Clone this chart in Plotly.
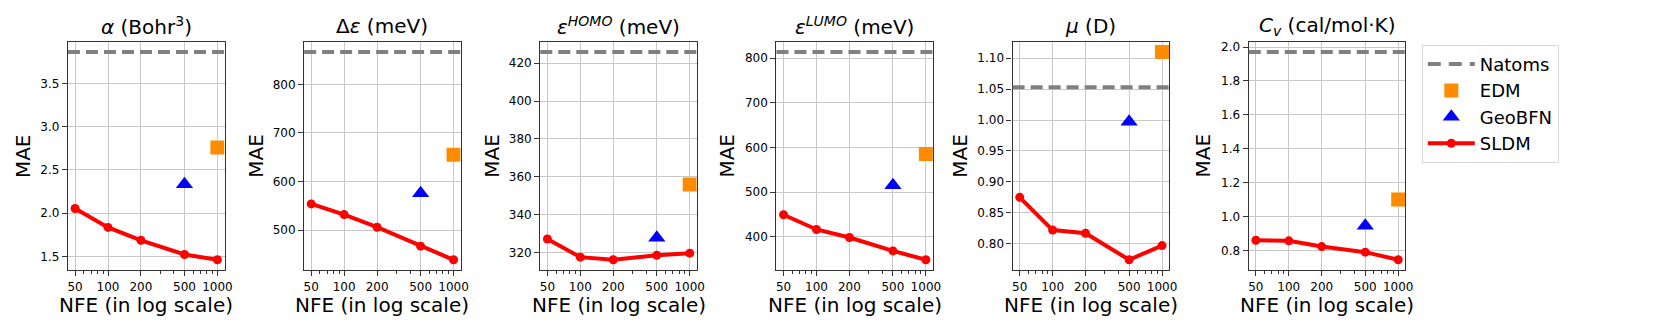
import math
import plotly.graph_objects as go
from plotly.subplots import make_subplots

# x values (number of function evaluations)
nfe = [50, 100, 200, 500, 1000]
nfe_labels = ["50", "100", "200", "500", "1000"]
nfe_minor = [60, 70, 80, 90, 300, 400, 600, 700, 800, 900]
edm_nfe = [1000]
geobfn_nfe = [500]

titles = [
    "<i>α</i> (Bohr<sup>3</sup>)",
    "Δ<i>ε</i> (meV)",
    "<i>ε</i><sup><i>HOMO</i></sup> (meV)",
    "<i>ε</i><sup><i>LUMO</i></sup> (meV)",
    "<i>μ</i> (D)",
    "<i>C</i><sub><i>v</i></sub> (cal/mol·K)",
]

# MAE values per property
sldm_alpha = [2.055, 1.836, 1.687, 1.523, 1.462]
sldm_gap = [554, 532, 506, 467, 439]
sldm_homo = [327.2, 317.6, 316.2, 318.6, 319.7]
sldm_lumo = [449, 416, 398, 368, 348]
sldm_mu = [0.875, 0.822, 0.817, 0.774, 0.797]
sldm_cv = [0.860, 0.857, 0.823, 0.790, 0.745]

edm_mae = [2.76, 655, 356, 585, 1.110, 1.100]
geobfn_mae = [2.334, 576, 327.9, 515, 0.997, 0.946]
natoms_mae = [3.863, 866.5, 425.9, 814, 1.053, 1.971]

sldm_all = [sldm_alpha, sldm_gap, sldm_homo, sldm_lumo, sldm_mu, sldm_cv]
ytick_step = [0.5, 100, 20, 100, 0.05, 0.2]
ytick_fmt = [".1f", "d", "d", "d", ".2f", ".1f"]

W, H = 1661, 332
left0, step, pw = 68.3, 237.3, 157.3
top_px, bot_px = 40.7, 270.0
ylabel_off = [45, 48.6, 48.6, 50, 53, 46.4]

GRAY = "#808080"
ORANGE = "#FF8C00"
BLUE = "#0000FF"
RED = "#FF0000"
FRAME = "#333333"
FONT = "DejaVu Sans"

fig = make_subplots(rows=1, cols=6)

for i in range(6):
    col = i + 1
    first = i == 0
    sldm = sldm_all[i]

    fig.add_trace(go.Scatter(
        x=nfe, y=sldm, mode="lines+markers", name="SLDM",
        line=dict(color=RED, width=4), marker=dict(size=9, color=RED),
        showlegend=first, legendrank=4,
    ), row=1, col=col)
    fig.add_trace(go.Scatter(
        x=edm_nfe, y=[edm_mae[i]], mode="markers", name="EDM",
        marker=dict(symbol="square", size=14, color=ORANGE),
        showlegend=first, legendrank=2,
    ), row=1, col=col)
    fig.add_trace(go.Scatter(
        x=geobfn_nfe, y=[geobfn_mae[i]], mode="markers", name="GeoBFN",
        marker=dict(symbol="triangle-up", size=15, color=BLUE),
        showlegend=first, legendrank=3,
    ), row=1, col=col)
    fig.add_hline(y=natoms_mae[i], line=dict(color=GRAY, width=4, dash="12px,6px"),
                  row=1, col=col)
    if first:
        # legend entry for the horizontal baseline
        fig.add_trace(go.Scatter(
            x=[None], y=[None], mode="lines", name="Natoms",
            line=dict(color=GRAY, width=4, dash="13px,8px"),
            legendrank=1,
        ), row=1, col=col)

    # matplotlib-like autoscale with 5% margins
    vals = sldm + [edm_mae[i], geobfn_mae[i], natoms_mae[i]]
    lo, hi = min(vals), max(vals)
    pad = 0.05 * (hi - lo)
    xlo, xhi = math.log10(nfe[0]), math.log10(nfe[-1])
    xpad = 0.05 * (xhi - xlo)

    x0 = left0 + i * step
    fig.update_xaxes(
        row=1, col=col, domain=[x0 / W, (x0 + pw) / W],
        type="log", range=[xlo - xpad, xhi + xpad],
        tickmode="array", tickvals=nfe, ticktext=nfe_labels,
        ticks="outside", ticklen=5, tickwidth=1, tickcolor=FRAME,
        minor=dict(tickvals=nfe_minor, ticks="outside", ticklen=2.5,
                   tickwidth=0.8, tickcolor=FRAME, showgrid=False),
        showline=True, mirror=True, linecolor=FRAME, linewidth=1.3,
        showgrid=True, gridcolor="#c8c8c8", gridwidth=1, zeroline=False,
        tickfont=dict(family=FONT, size=12, color="black"),
    )
    fig.update_yaxes(
        row=1, col=col, domain=[1 - bot_px / H, 1 - top_px / H],
        range=[lo - pad, hi + pad], dtick=ytick_step[i], tickformat=ytick_fmt[i],
        ticks="outside", ticklen=5, tickwidth=1, tickcolor=FRAME,
        showline=True, mirror=True, linecolor=FRAME, linewidth=1.3,
        showgrid=True, gridcolor="#c8c8c8", gridwidth=1, zeroline=False,
        tickfont=dict(family=FONT, size=12, color="black"),
    )

    cx = (x0 + pw / 2) / W
    fig.add_annotation(text=titles[i], x=cx, y=1 - 25 / H, xref="paper", yref="paper",
                       xanchor="center", yanchor="middle", showarrow=False,
                       font=dict(family=FONT, size=20, color="black"))
    fig.add_annotation(text="NFE (in log scale)", x=cx, y=1 - 305 / H,
                       xref="paper", yref="paper", xanchor="center", yanchor="middle",
                       showarrow=False, font=dict(family=FONT, size=20, color="black"))
    fig.add_annotation(text="MAE", x=(x0 - ylabel_off[i]) / W,
                       y=1 - (top_px + bot_px) / 2 / H, xref="paper", yref="paper",
                       xanchor="center", yanchor="middle", textangle=-90,
                       showarrow=False, font=dict(family=FONT, size=20, color="black"))

fig.update_layout(
    width=W, height=H, margin=dict(l=0, r=0, t=0, b=0),
    plot_bgcolor="white", paper_bgcolor="white",
    font=dict(family=FONT, color="black"),
    legend=dict(x=1428.7 / W, y=1 - 44 / H, xanchor="left", yanchor="top",
                bordercolor="#d8d8d8", borderwidth=1, bgcolor="white",
                font=dict(family=FONT, size=18, color="black"),
                itemwidth=47, tracegroupgap=0),
)

# drop the browser's default body margin so the figure sits at the page origin
fig.write_html("out.html", config={"displayModeBar": False},
               post_script="document.body.style.margin = '0';")
